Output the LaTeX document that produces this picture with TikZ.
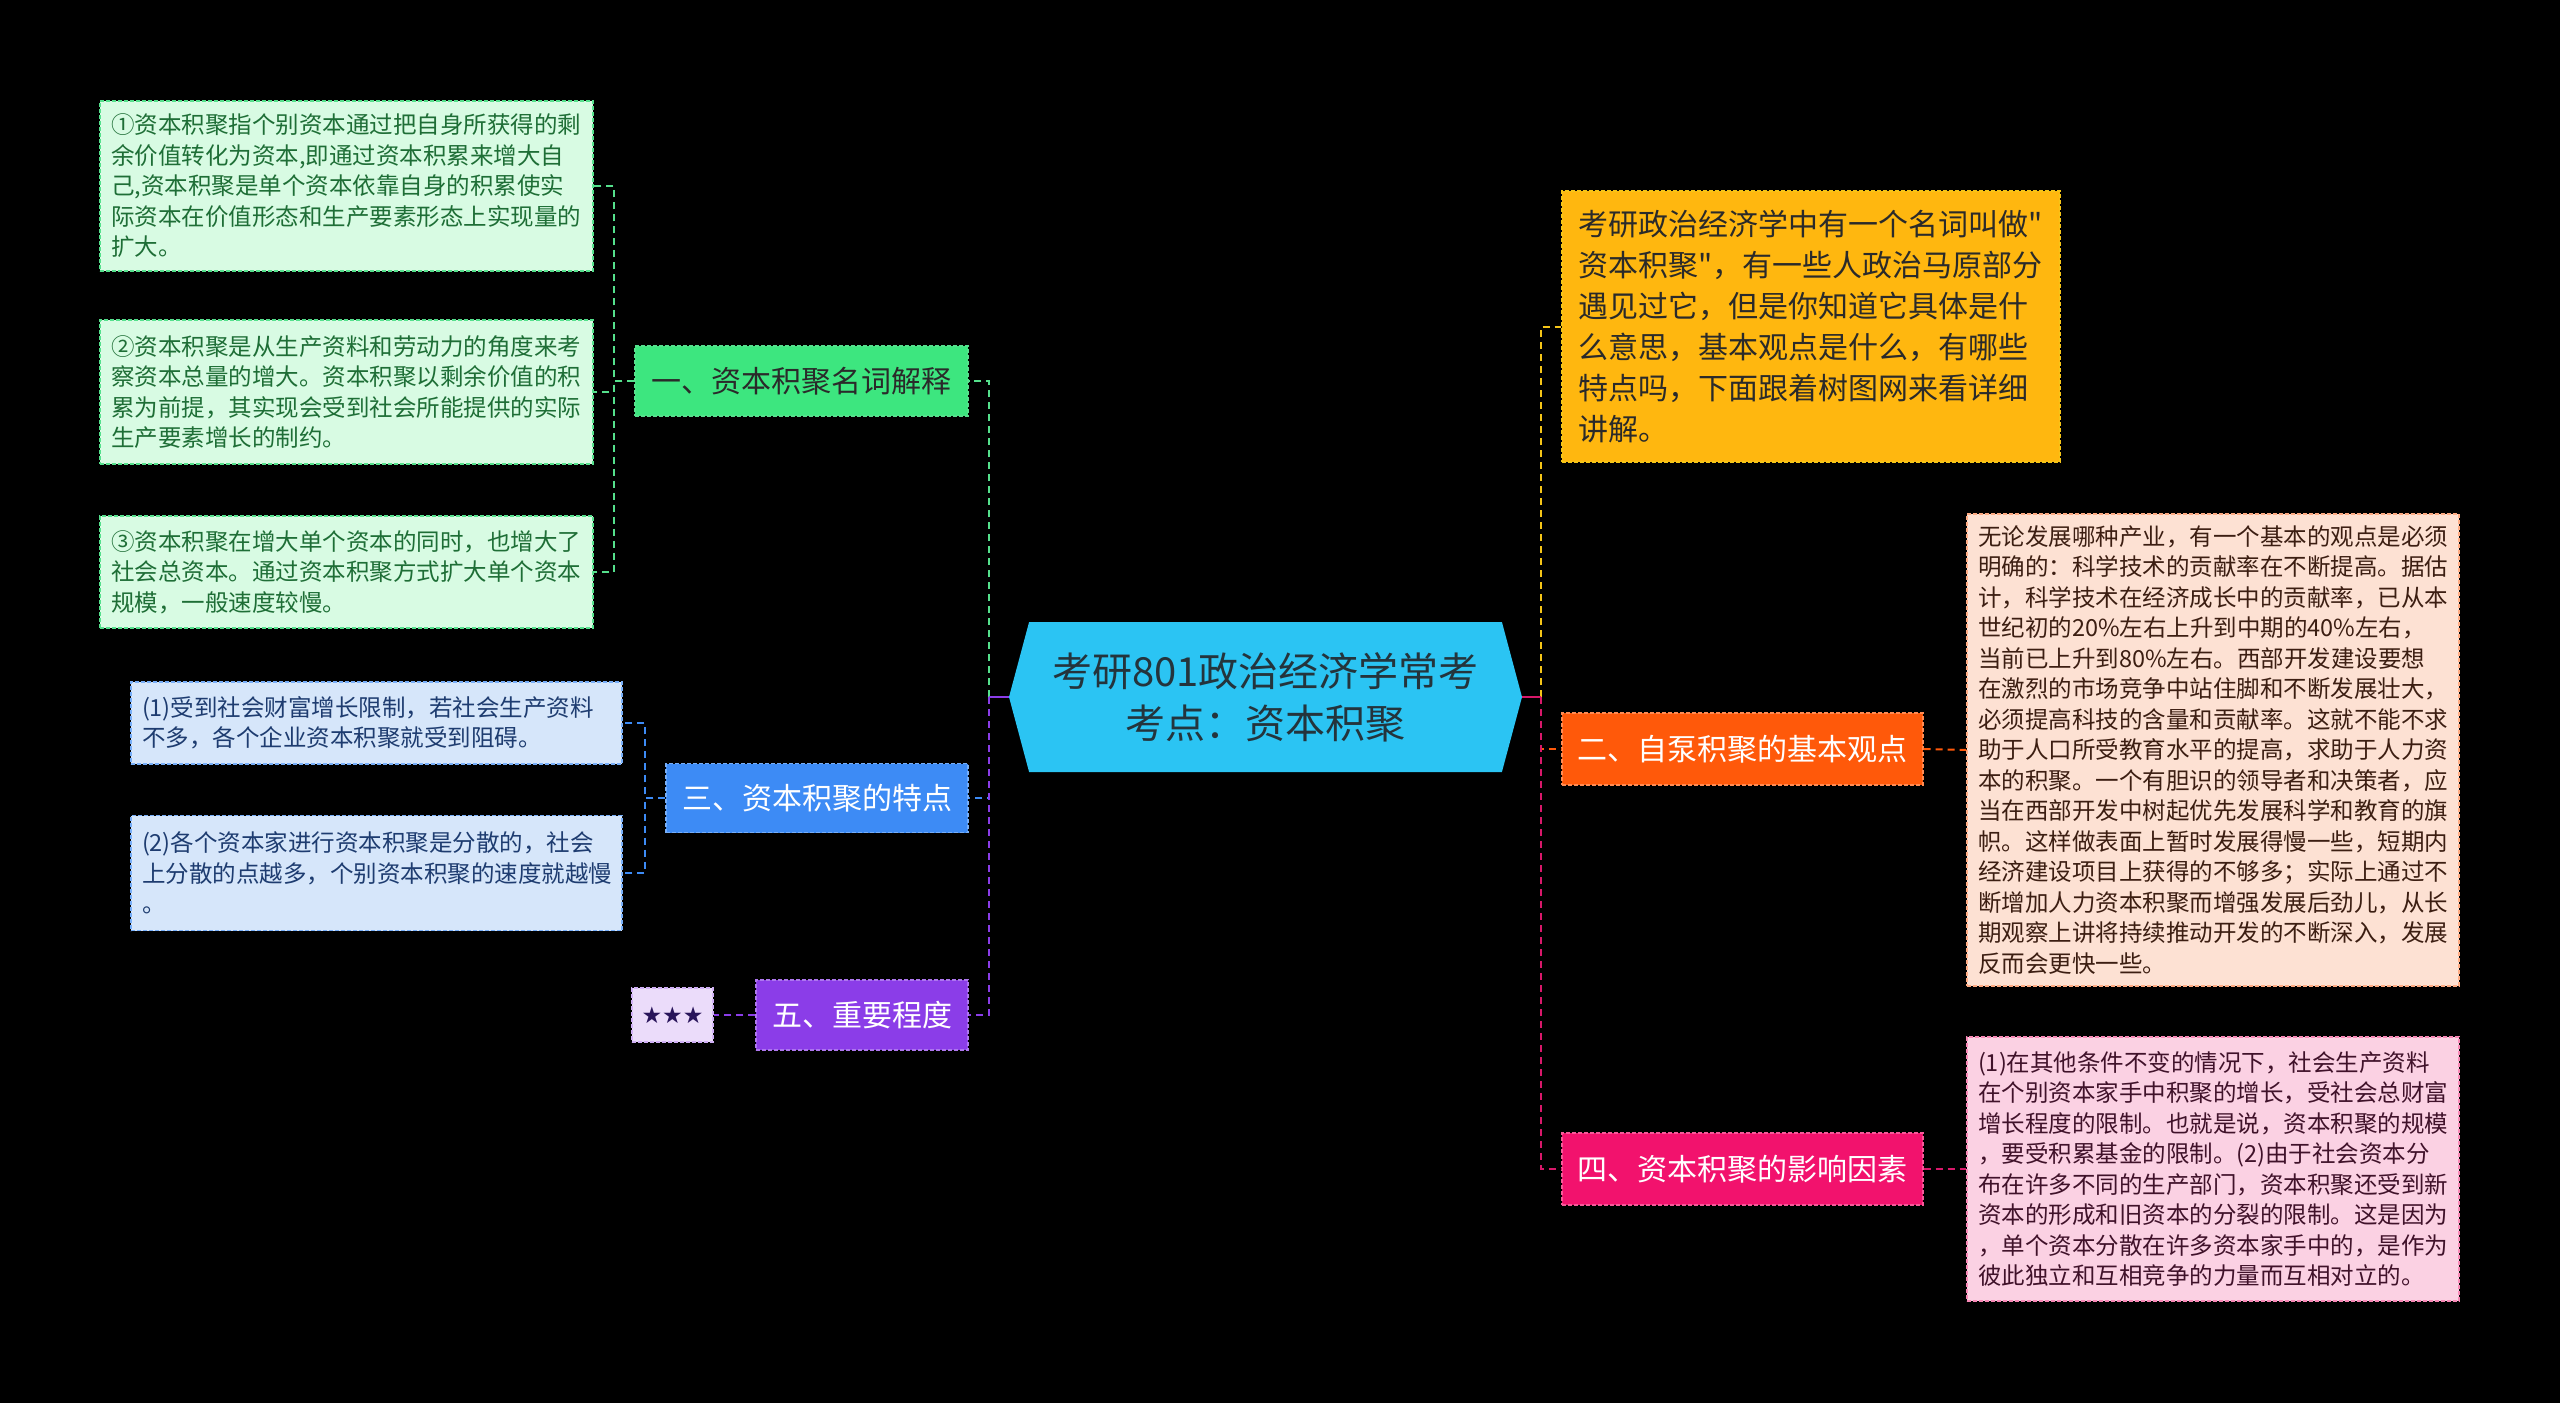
\documentclass[tikz,border=0pt]{standalone}
\usepackage{fontspec}
\newfontfamily\cjk{Noto Sans CJK SC}
\newfontfamily\symb{DejaVu Sans}
\usetikzlibrary{shapes.symbols,positioning}
\definecolor{midfill}{HTML}{2BC4F3}
\definecolor{midtext}{HTML}{24343C}
\definecolor{grn}{HTML}{3DE67F}
\definecolor{grnln}{HTML}{55E08C}
\definecolor{grnbg}{HTML}{D8FBE3}
\definecolor{grntx}{HTML}{1E6E36}
\definecolor{blu}{HTML}{3D8BF5}
\definecolor{blubg}{HTML}{D6E6FA}
\definecolor{blutx}{HTML}{1E3C70}
\definecolor{pur}{HTML}{8B3DE8}
\definecolor{purbg}{HTML}{EBDCFA}
\definecolor{purtx}{HTML}{28145A}
\definecolor{yel}{HTML}{FFB70F}
\definecolor{yelln}{HTML}{F5C518}
\definecolor{org}{HTML}{FF590A}
\definecolor{orgbg}{HTML}{FDE1D3}
\definecolor{orgtx}{HTML}{3C1E12}
\definecolor{pnk}{HTML}{F2126D}
\definecolor{pnkln}{HTML}{D8186A}
\definecolor{pnkbg}{HTML}{FBD1E3}
\definecolor{pnktx}{HTML}{40122A}
\definecolor{darktx}{HTML}{2A2A2A}

\begin{document}
\begin{tikzpicture}[x=1pt,y=-1pt,
    box/.style={draw, dash pattern=on 4pt off 2pt, line width=1.2pt, inner xsep=11pt, inner ysep=0pt,
        align=left, font=\cjk\fontsize{23.5}{30.5}\selectfont},
    topic/.style={draw, dash pattern=on 4pt off 2pt, line width=1.2pt, inner sep=0pt, align=center,
        font=\cjk\fontsize{30}{41}\selectfont},
    link/.style={line width=2pt, dash pattern=on 7pt off 5pt},
    stub/.style={line width=2.5pt},
    ]
\useasboundingbox (0,0) rectangle (2560,1403);
\fill[black] (0,0) rectangle (2560,1403);

\node[signal, signal to=west and east, signal pointer angle=150, fill=midfill, text=midtext,
    minimum width=513pt, minimum height=150pt, inner sep=0pt, align=center,
    font=\cjk\fontsize{40}{52}\selectfont] (mid) at (1265.5,697)
    {考研801政治经济学常考\\考点：资本积聚};
\coordinate (midL) at (989,697);
\coordinate (midR) at (1541,697);

% left side
\node[topic, fill=grn, draw=grnln, text=darktx, minimum width=333pt, minimum height=70pt] (one) at (801.5,381) {一、资本积聚名词解释};
\node[box, fill=grnbg, draw=grnln, text=grntx, text width=471pt, minimum height=170pt] (def1) at (346.5,186)
    {①资本积聚指个别资本通过把自身所获得的剩\\余价值转化为资本,即通过资本积累来增大自\\己,资本积聚是单个资本依靠自身的积累使实\\际资本在价值形态和生产要素形态上实现量的\\扩大。};
\node[box, fill=grnbg, draw=grnln, text=grntx, text width=471pt, minimum height=144pt] (def2) at (346.5,392)
    {②资本积聚是从生产资料和劳动力的角度来考\\察资本总量的增大。资本积聚以剩余价值的积\\累为前提，其实现会受到社会所能提供的实际\\生产要素增长的制约。};
\node[box, fill=grnbg, draw=grnln, text=grntx, text width=471pt, minimum height=112pt] (def3) at (346.5,572)
    {③资本积聚在增大单个资本的同时，也增大了\\社会总资本。通过资本积聚方式扩大单个资本\\规模，一般速度较慢。};

\node[topic, fill=blu, draw=blu!70!white, text=white, minimum width=302pt, minimum height=69pt] (three) at (817,798) {三、资本积聚的特点};
\node[box, fill=blubg, draw=blu!70!white, text=blutx, text width=469pt, minimum height=82pt] (feat1) at (376.5,723)
    {(1)受到社会财富增长限制，若社会生产资料\\不多，各个企业资本积聚就受到阻碍。};
\node[box, fill=blubg, draw=blu!70!white, text=blutx, text width=469pt, minimum height=115pt] (feat2) at (376.5,873)
    {(2)各个资本家进行资本积聚是分散的，社会\\上分散的点越多，个别资本积聚的速度就越慢\\。};

\node[topic, fill=pur, draw=pur!70!white, text=white, minimum width=212pt, minimum height=70pt] (five) at (862,1015) {五、重要程度};
\node[topic, fill=purbg, draw=pur!40!white, text=purtx, minimum width=81pt, minimum height=54pt,
    font=\symb\fontsize{23}{26}\selectfont] (stars) at (672.5,1015) {★★★};

% right side
\node[box, fill=yel, draw=yelln, text=darktx, text width=466pt, inner xsep=16pt, minimum height=271pt,
    font=\cjk\fontsize{30}{41}\selectfont] (intro) at (1811,326.5)
    {考研政治经济学中有一个名词叫做"\\资本积聚"，有一些人政治马原部分\\遇见过它，但是你知道它具体是什\\么意思，基本观点是什么，有哪些\\特点吗，下面跟着树图网来看详细\\讲解。};

\node[topic, fill=org, draw=org!70!white, text=white, minimum width=361pt, minimum height=72pt] (two) at (1742.5,749) {二、自泵积聚的基本观点};
\node[box, fill=orgbg, draw=org!50!white, text=orgtx, text width=470pt, minimum height=472pt] (view) at (2213,750)
    {无论发展哪种产业，有一个基本的观点是必须\\明确的：科学技术的贡献率在不断提高。据估\\计，科学技术在经济成长中的贡献率，已从本\\世纪初的20\%左右上升到中期的40\%左右，\\当前已上升到80\%左右。西部开发建设要想\\在激烈的市场竞争中站住脚和不断发展壮大，\\必须提高科技的含量和贡献率。这就不能不求\\助于人口所受教育水平的提高，求助于人力资\\本的积聚。一个有胆识的领导者和决策者，应\\当在西部开发中树起优先发展科学和教育的旗\\帜。这样做表面上暂时发展得慢一些，短期内\\经济建设项目上获得的不够多；实际上通过不\\断增加人力资本积聚而增强发展后劲儿，从长\\期观察上讲将持续推动开发的不断深入，发展\\反而会更快一些。};

\node[topic, fill=pnk, draw=pnk!70!white, text=white, minimum width=361pt, minimum height=72pt] (four) at (1742.5,1169) {四、资本积聚的影响因素};
\node[box, fill=pnkbg, draw=pnk!50!white, text=pnktx, text width=470pt, minimum height=264pt] (factor) at (2213,1169)
    {(1)在其他条件不变的情况下，社会生产资料\\在个别资本家手中积聚的增长，受社会总财富\\增长程度的限制。也就是说，资本积聚的规模\\，要受积累基金的限制。(2)由于社会资本分\\布在许多不同的生产部门，资本积聚还受到新\\资本的形成和旧资本的分裂的限制。这是因为\\，单个资本分散在许多资本家手中的，是作为\\彼此独立和互相竞争的力量而互相对立的。};

% connectors
\draw[link, grnln] (midL) |- (one.east);
\draw[link, blu] (midL) |- (three.east);
\draw[link, pur] (midL) |- (five.east);
\draw[stub, pur] (mid.west) -- (midL);
\draw[link, yelln] (midR) |- (intro.west);
\draw[link, org] (midR) |- (two.west);
\draw[link, pnkln] (midR) |- (four.west);
\draw[stub, pnkln] (mid.east) -- (midR);

\coordinate (oneJ) at (614,381);
\coordinate (threeJ) at (645,798);
\foreach \n in {def1,def2,def3}
    \draw[link, grnln] (one.west) -- (oneJ) |- (\n.east);
\foreach \n in {feat1,feat2}
    \draw[link, blu] (three.west) -- (threeJ) |- (\n.east);
\draw[link, pur] (five.west) -- (stars.east);
\draw[link, org] (two.east) -- (view.west);
\draw[link, pnkln] (four.east) -- (factor.west);
\end{tikzpicture}
\end{document}
